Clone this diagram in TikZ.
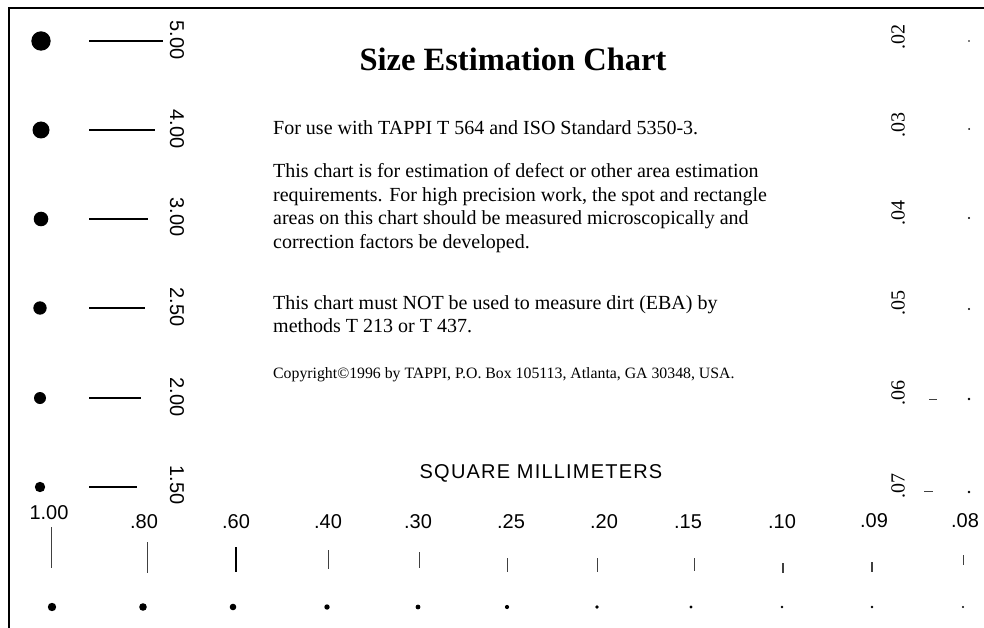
\documentclass[tikz,border=0pt]{standalone}
\usepackage{fontspec}
\setmainfont{Liberation Serif}
\setsansfont{Liberation Sans}
\usetikzlibrary{positioning}
\tikzset{
  num/.style={font=\sffamily\fontsize{20}{20}\selectfont, inner sep=0pt},
  lnum/.style={num, rotate=-90},
  rnum/.style={font=\fontsize{20}{20}\selectfont, inner sep=0pt, rotate=90},
  txt/.style={font=\fontsize{20}{23.5}\selectfont, align=left, anchor=west, inner sep=0pt},
  rule/.style={line width=#1},
  tick/.style={draw=black!75, line width=0.9pt}
}

\begin{document}
\begin{tikzpicture}[x=1pt, y=-1pt]
    \useasboundingbox (0,0) rectangle (984,628);
    % Frame
    \draw[line width=2.6pt] (9,628) -- (9,8) -- (984,8);
    % Title and notes
    \node[font=\bfseries\fontsize{32.5}{32.5}\selectfont, inner sep=0pt] (title) at (513,59) {Size Estimation Chart};
    \node[txt] (usage) at (273,128) {For use with TAPPI T 564 and ISO Standard 5350-3.};
    \node[txt] (note) at (273,208) {This chart is for estimation of defect or other area estimation\\requirements. For high precision work, the spot and rectangle\\areas on this chart should be measured microscopically and\\correction factors be developed.};
    \node[txt] (warning) at (273,314) {This chart must NOT be used to measure dirt (EBA) by\\methods T 213 or T 437.};
    \node[txt, font=\fontsize{15.8}{15.8}\selectfont] (copyright) at (273,375) {Copyright©1996 by TAPPI, P.O. Box 105113, Atlanta, GA 30348, USA.};
    \node[font=\sffamily\fontsize{20}{20}\selectfont\addfontfeature{LetterSpace=6}, inner sep=0pt] (unit) at (541,473) {SQUARE MILLIMETERS};
    % Left column: spots, rules, labels
    \fill (41,41) circle (9.7);
    \fill (41,130) circle (8.5);
    \fill (41,219) circle (7.3);
    \fill (40,308) circle (6.7);
    \fill (40,398) circle (6.0);
    \fill (40,487) circle (5.2);
    \draw[rule=2.8pt] (89,41) -- (163,41);
    \draw[rule=2.1pt] (89,130) -- (155,130);
    \draw[rule=2.0pt] (89,219) -- (148,219);
    \draw[rule=1.7pt] (89,308) -- (145,308);
    \draw[rule=1.4pt] (89,398) -- (141,398);
    \draw[rule=1.2pt] (89,487) -- (137,487);
    \node[lnum] (l500) at (177,40) {5.00};
    \node[lnum] (l400) at (177,129) {4.00};
    \node[lnum] (l300) at (177,217) {3.00};
    \node[lnum] (l250) at (177,307) {2.50};
    \node[lnum] (l200) at (177,397) {2.00};
    \node[lnum] (l150) at (177,485) {1.50};
    % Right column: labels, dashes, spots
    \node[rnum] (r02) at (898,37) {.02};
    \node[rnum] (r03) at (898,125) {.03};
    \node[rnum] (r04) at (898,213) {.04};
    \node[rnum] (r05) at (898,303) {.05};
    \node[rnum] (r06) at (898,393) {.06};
    \node[rnum] (r07) at (898,486) {.07};
    \draw[tick] (929,399) -- (937,399);
    \draw[tick] (924,491) -- (933,491);
    \fill (969,41) circle (0.9);
    \fill (969,129) circle (1.0);
    \fill (969,218) circle (1.1);
    \fill (969,309) circle (1.2);
    \fill (969,399) circle (1.3);
    \fill (969,492) circle (1.4);
    % Bottom row: labels, ticks, spots
    \node[num] (b100) at (49,513) {1.00};
    \node[num] (b80) at (144,522) {.80};
    \node[num] (b60) at (236,522) {.60};
    \node[num] (b40) at (328,522) {.40};
    \node[num] (b30) at (418,522) {.30};
    \node[num] (b25) at (511,522) {.25};
    \node[num] (b20) at (604,522) {.20};
    \node[num] (b15) at (688,522) {.15};
    \node[num] (b10) at (782,522) {.10};
    \node[num] (b09) at (874,521) {.09};
    \node[num] (b08) at (965,521) {.08};
    \draw[tick] (51,527) -- (51,568);
    \draw[tick] (147,542) -- (147,573);
    \draw[tick, draw=black, line width=1.8pt] (236,547) -- (236,572);
    \draw[tick] (328,550) -- (328,569);
    \draw[tick] (419,552) -- (419,568);
    \draw[tick] (507,558) -- (507,572);
    \draw[tick] (597,558) -- (597,572);
    \draw[tick] (694,558) -- (694,571);
    \draw[tick, line width=1.4pt] (783,563) -- (783,573);
    \draw[tick, line width=1.2pt] (872,562) -- (872,572);
    \draw[tick] (963,555) -- (963,565);
    \fill (52,607) circle (4.2);
    \fill (143,607) circle (3.8);
    \fill (233,607) circle (3.3);
    \fill (327,607) circle (2.7);
    \fill (418,607) circle (2.4);
    \fill (507,607) circle (2.1);
    \fill (597,607) circle (1.9);
    \fill (691,607) circle (1.7);
    \fill (782,607) circle (1.4);
    \fill (872,607) circle (1.3);
    \fill (963,607) circle (1.2);
  \end{tikzpicture}
\end{document}
